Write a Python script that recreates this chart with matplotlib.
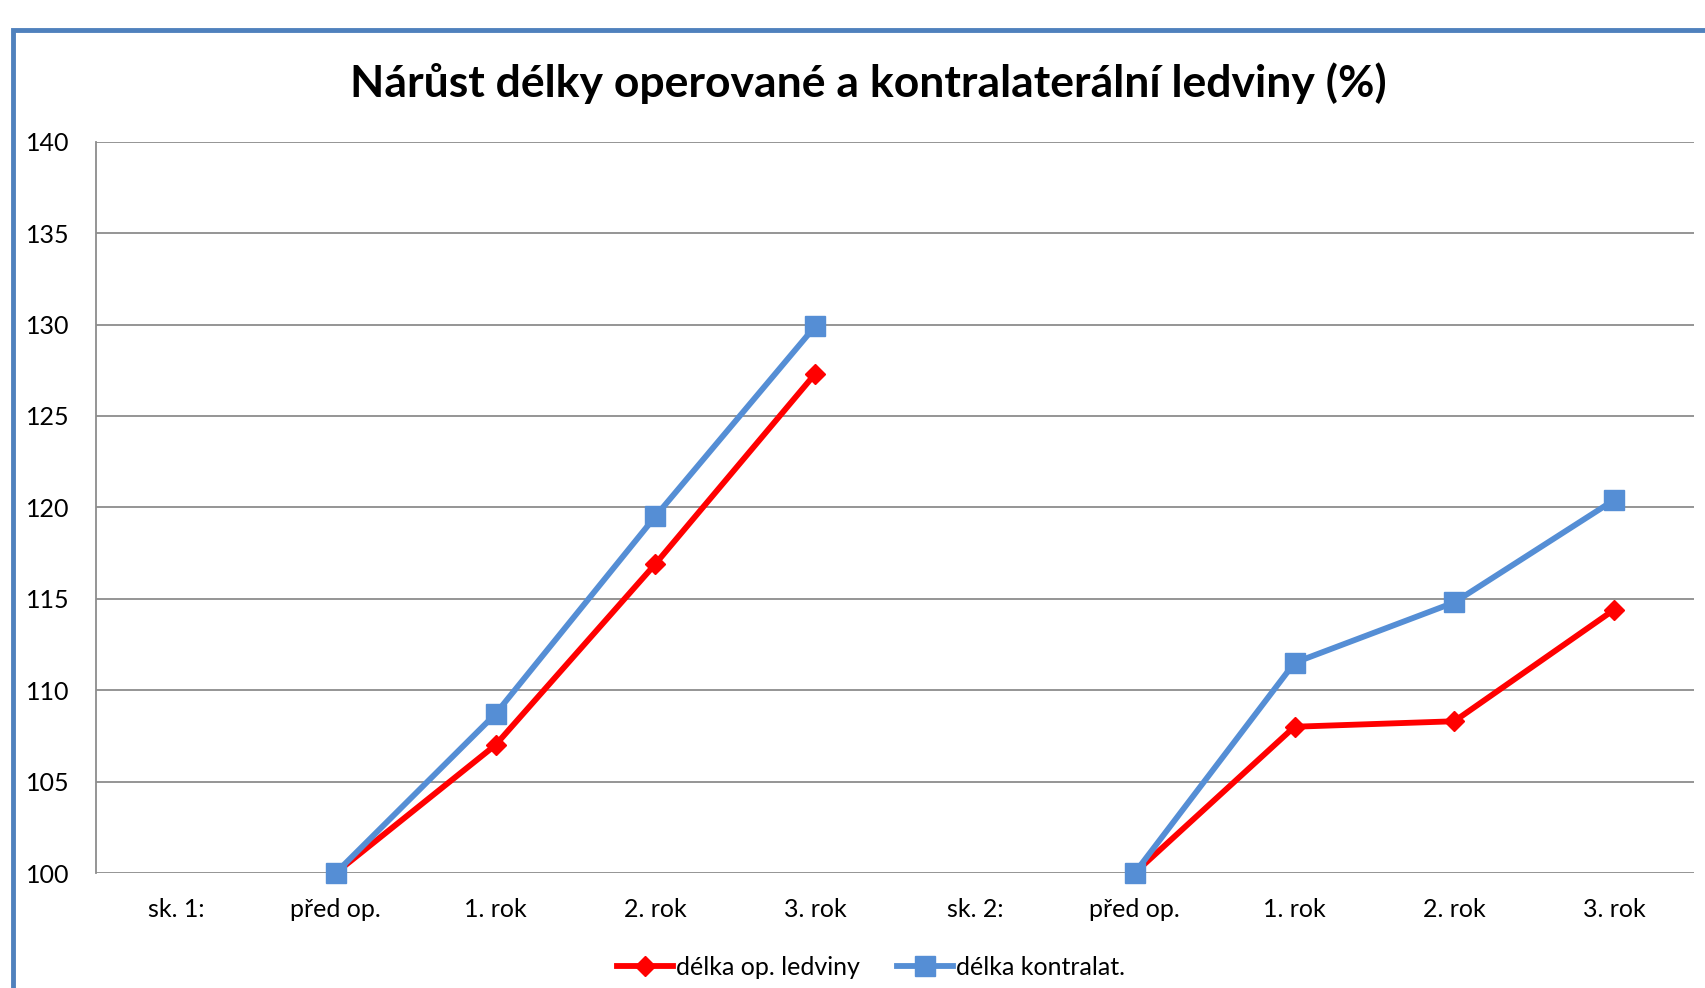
import numpy as np
import matplotlib.pyplot as plt
from matplotlib.patches import Rectangle

plt.rcParams['font.family'] = ['Lato', 'DejaVu Sans']

categories = ['sk. 1:', 'před op.', '1. rok', '2. rok', '3. rok',
              'sk. 2:', 'před op.', '1. rok', '2. rok', '3. rok']
op_ledviny = [np.nan, 100, 107.0, 116.9, 127.3, np.nan, 100, 108.0, 108.3, 114.4]
kontralat = [np.nan, 100, 108.7, 119.5, 129.9, np.nan, 100, 111.5, 114.8, 120.4]
yticks = [100, 105, 110, 115, 120, 125, 130, 135, 140]

fig = plt.figure(figsize=(17.05, 9.88), dpi=100)
ax = fig.add_axes([96/1705, 1-873/988, (1694-96)/1705, (873-141.7)/988])

x = np.arange(len(categories))
ax.plot(x, op_ledviny, color='#ff0000', lw=4.2, marker='D', ms=10.5,
        label='délka op. ledviny', zorder=3, clip_on=False)
ax.plot(x, kontralat, color='#558ed5', lw=4.2, marker='s', ms=14.5,
        label='délka kontralat.', zorder=4, clip_on=False)

ax.set_xlim(-0.5, 9.5)
ax.set_ylim(100, 140)
ax.set_yticks(yticks)
ax.set_xticks(x)
ax.set_xticklabels(categories)
ax.tick_params(axis='both', length=0, labelsize=18)
ax.tick_params(axis='y', pad=19)
ax.tick_params(axis='x', pad=18)
ax.grid(axis='y', color='#8c8c8c', lw=1.3)
ax.set_axisbelow(True)
for s in ['top', 'right', 'bottom']:
    ax.spines[s].set_visible(False)
ax.spines['left'].set_color('#8c8c8c')
ax.spines['left'].set_linewidth(1.3)

fig.text(868/1705, 1-97/988, 'Nárůst délky operované a kontralaterální ledviny (%)',
         ha='center', va='baseline', fontsize=32, fontweight='bold')

fig.legend(loc='center', bbox_to_anchor=(871/1705, 1-967/988), ncol=2, frameon=False,
           fontsize=18, handlelength=2.25, handletextpad=0.1, columnspacing=1.5)

# outer chart border (cropped at right and bottom)
fig.patches.append(Rectangle((13/1705, -0.1), 1.2, 1.1 - 30/988, transform=fig.transFigure,
                             fill=False, edgecolor='#4f81bd', lw=3.5, zorder=10))

fig.savefig('out.png', dpi=100)
